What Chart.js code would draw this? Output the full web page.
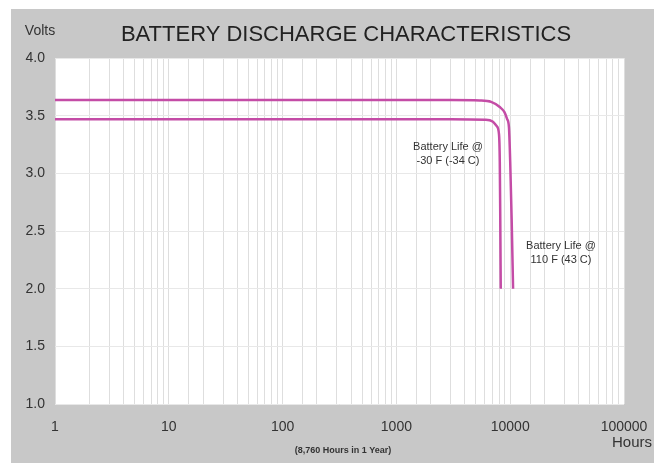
<!DOCTYPE html>
<html>
<head>
<meta charset="utf-8">
<script src="https://cdn.jsdelivr.net/npm/chart.js@4"></script>
<style>
  html, body { margin: 0; padding: 0; background: #fff; }
  #wrap { width: 654px; height: 463px; }
</style>
</head>
<body>
<div id="wrap"><canvas id="chart" width="654" height="463"></canvas></div>
<script>
// hours (log axis) vs volts
const hoursHot = [1, 3000, 5400, 6800, 8100, 8900, 9400, 9750, 10000, 10300, 10600];
const voltsHot = [3.635, 3.635, 3.632, 3.62, 3.575, 3.53, 3.47, 3.40, 3.1, 2.6, 2.0];
const hoursCold = [1, 3000, 6000, 7000, 7600, 7970, 8100, 8180, 8260];
const voltsCold = [3.47, 3.47, 3.465, 3.45, 3.41, 3.34, 3.1, 2.6, 2.0];
const xTicks = [1, 10, 100, 1000, 10000, 100000];
const yTicks = [1.0, 1.5, 2.0, 2.5, 3.0, 3.5, 4.0];

const lineColor = '#c44ca6';
const textColor = '#333';

function toPoints(xs, ys) {
  return xs.map((x, i) => ({ x: x, y: ys[i] }));
}

const background = {
  id: 'background',
  beforeDraw(chart) {
    const ctx = chart.ctx;
    const a = chart.chartArea;
    ctx.save();
    ctx.fillStyle = '#c8c8c8';
    ctx.fillRect(11, 9, chart.width - 11, chart.height - 9);
    ctx.fillStyle = '#fff';
    ctx.fillRect(a.left, a.top, a.right - a.left, a.bottom - a.top);
    ctx.restore();
  }
};

const labels = {
  id: 'labels',
  afterDraw(chart) {
    const ctx = chart.ctx;
    ctx.save();
    ctx.fillStyle = '#222';
    ctx.textAlign = 'center';
    ctx.textBaseline = 'middle';
    ctx.font = '22px "Liberation Sans", Arial, sans-serif';
    ctx.fillText('BATTERY DISCHARGE CHARACTERISTICS', 346, 35);
    ctx.fillStyle = textColor;
    ctx.font = '14px "Liberation Sans", Arial, sans-serif';
    ctx.fillText('Volts', 40, 31);
    ctx.font = '15px "Liberation Sans", Arial, sans-serif';
    ctx.fillText('Hours', 632, 443);
    ctx.font = 'bold 9px "Liberation Sans", Arial, sans-serif';
    ctx.fillText('(8,760 Hours in 1 Year)', 343, 451);
    ctx.font = '11px "Liberation Sans", Arial, sans-serif';
    ctx.fillText('Battery Life @', 448, 147);
    ctx.fillText('-30 F (-34 C)', 448, 161);
    ctx.fillText('Battery Life @', 561, 246);
    ctx.fillText('110 F (43 C)', 561, 260);
    ctx.restore();
  }
};

const config = {
  type: 'line',
  data: {
    datasets: [
      {
        label: '110 F (43 C)',
        data: toPoints(hoursHot, voltsHot),
        borderColor: lineColor,
        borderWidth: 2.5,
        pointRadius: 0,
        cubicInterpolationMode: 'monotone'
      },
      {
        label: '-30 F (-34 C)',
        data: toPoints(hoursCold, voltsCold),
        borderColor: lineColor,
        borderWidth: 2.5,
        pointRadius: 0,
        cubicInterpolationMode: 'monotone'
      }
    ]
  },
  options: {
    responsive: false,
    animation: false,
    layout: { padding: { top: 58, right: 30, left: 0, bottom: 0 } },
    plugins: {
      legend: { display: false },
      tooltip: { enabled: false }
    },
    scales: {
      x: {
        type: 'logarithmic',
        min: 1,
        max: 100000,
        border: { display: false },
        grid: { color: '#dedede', drawTicks: false },
        afterFit(scale) {
          scale.height = 59;
          scale.paddingLeft = 0;
          scale.paddingRight = 0;
        },
        ticks: {
          autoSkip: false,
          maxRotation: 0,
          padding: 15,
          color: textColor,
          font: { family: '"Liberation Sans", Arial, sans-serif', size: 14 },
          callback: (v) => xTicks.includes(v) ? String(v) : ''
        }
      },
      y: {
        min: 1,
        max: 4,
        border: { display: false },
        grid: { color: '#e8e8e8', drawTicks: false },
        afterFit(scale) { scale.width = 55; },
        ticks: {
          stepSize: 0.5,
          padding: 10,
          color: textColor,
          font: { family: '"Liberation Sans", Arial, sans-serif', size: 14 },
          callback: (v) => yTicks.includes(v) ? v.toFixed(1) : ''
        }
      }
    }
  },
  plugins: [background, labels]
};

new Chart(document.getElementById('chart'), config);
</script>
</body>
</html>
